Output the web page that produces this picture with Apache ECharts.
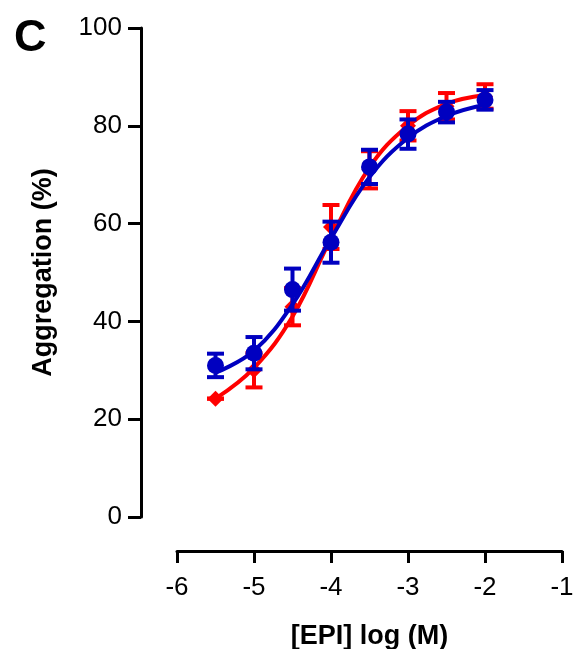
<!DOCTYPE html>
<html><head><meta charset="utf-8">
<script src="https://cdn.jsdelivr.net/npm/echarts@6/dist/echarts.min.js"></script>
<style>html,body{margin:0;padding:0;background:#fff}#c{width:575px;height:649px}</style>
</head><body><div id="c"></div>
<script>
const doses = [-5.5, -5, -4.5, -4, -3.5, -3, -2.5, -2];
const redMean = [24.2, 30, 43, 59.3, 71, 80, 84, 86];
const redErr = [0, 3.5, 3.8, 4.5, 3.8, 3, 2.7, 2.5];
const blueMean = [31, 33.5, 46.5, 56.2, 71.6, 78.3, 82.8, 85.3];
const blueErr = [2.4, 3.3, 4.3, 4.2, 3.5, 3.0, 2.1, 2.0];
const redFit = [24.2, 30.5, 41, 57, 71.5, 80, 84.5, 86.3];
const blueFit = [29.5, 34, 43.5, 57, 69.5, 77.5, 82, 84.3];
const xTicks = [-6, -5, -4, -3, -2, -1];
const yTicks = [0, 20, 40, 60, 80, 100];

const RED = '#ff0000', BLUE = '#0000c0';
const font = 'Liberation Sans, Arial, sans-serif';

function pairs(xs, ys){ return xs.map((x,i)=>[x, ys[i]]); }
function errData(xs, m, e){ return xs.map((x,i)=>[x, m[i]-e[i], m[i]+e[i]]); }
function errSeries(data, color, z){
  return {
    type:'custom', data: data, z: z,
    renderItem: function(params, api){
      const x = api.value(0);
      const lo = api.coord([x, api.value(1)]);
      const hi = api.coord([x, api.value(2)]);
      const w = 8.5;
      const st = {stroke: color, lineWidth: 4, fill: null};
      return {type:'group', children:[
        {type:'line', shape:{x1:lo[0], y1:lo[1], x2:hi[0], y2:hi[1]}, style: st},
        {type:'line', shape:{x1:lo[0]-w, y1:lo[1], x2:lo[0]+w, y2:lo[1]}, style: st},
        {type:'line', shape:{x1:hi[0]-w, y1:hi[1], x2:hi[0]+w, y2:hi[1]}, style: st}
      ]};
    }
  };
}

const chart = echarts.init(document.getElementById('c'), null, {renderer:'canvas'});
chart.setOption({
  animation:false,
  backgroundColor:'#fff',
  grid:{left:177, right:13, top:28, bottom:132, containLabel:false, outerBoundsMode:'none'},
  xAxis:{
    type:'value', min:-6, max:-1, interval:1, offset:34,
    axisLine:{show:true, onZero:false, lineStyle:{color:'#000', width:3}},
    axisTick:{show:true, length:12, lineStyle:{color:'#000', width:3}},
    splitLine:{show:false},
    axisLabel:{color:'#000', fontSize:26, fontFamily:font, margin:24,
      formatter: v => xTicks.includes(v) ? String(v) : ''},
    name:'[EPI] log (M)', nameLocation:'middle', nameGap:72,
    nameTextStyle:{color:'#000', fontSize:27, fontWeight:'bold', fontFamily:font}
  },
  yAxis:{
    type:'value', min:0, max:100, interval:20, offset:36,
    axisLine:{show:true, onZero:false, lineStyle:{color:'#000', width:3}},
    axisTick:{show:true, length:13, lineStyle:{color:'#000', width:3}},
    splitLine:{show:false},
    axisLabel:{color:'#000', fontSize:26, fontFamily:font, margin:19,
      formatter: v => yTicks.includes(v) ? String(v) : ''},
    name:'Aggregation (%)', nameLocation:'middle', nameGap:84, nameRotate:90,
    nameTextStyle:{color:'#000', fontSize:27, fontWeight:'bold', fontFamily:font}
  },
  graphic:[{type:'text', left:14, top:16, style:{text:'C', fill:'#000', font:'bold 45px Liberation Sans, Arial, sans-serif'}}],
  series:[
    {type:'line', data: pairs(doses, redFit), smooth:0.4, symbol:'none', lineStyle:{color:RED, width:4}, z:2},
    errSeries(errData(doses, redMean, redErr), RED, 3),
    {type:'scatter', data: pairs(doses, redMean), symbol:'diamond', symbolSize:[16,16], itemStyle:{color:RED, opacity:1}, z:4},
    {type:'line', data: pairs(doses, blueFit), smooth:0.4, symbol:'none', lineStyle:{color:BLUE, width:4}, z:5},
    errSeries(errData(doses, blueMean, blueErr), BLUE, 6),
    {type:'scatter', data: pairs(doses, blueMean), symbol:'circle', symbolSize:17, itemStyle:{color:BLUE, opacity:1}, z:7}
  ]
});
</script></body></html>
